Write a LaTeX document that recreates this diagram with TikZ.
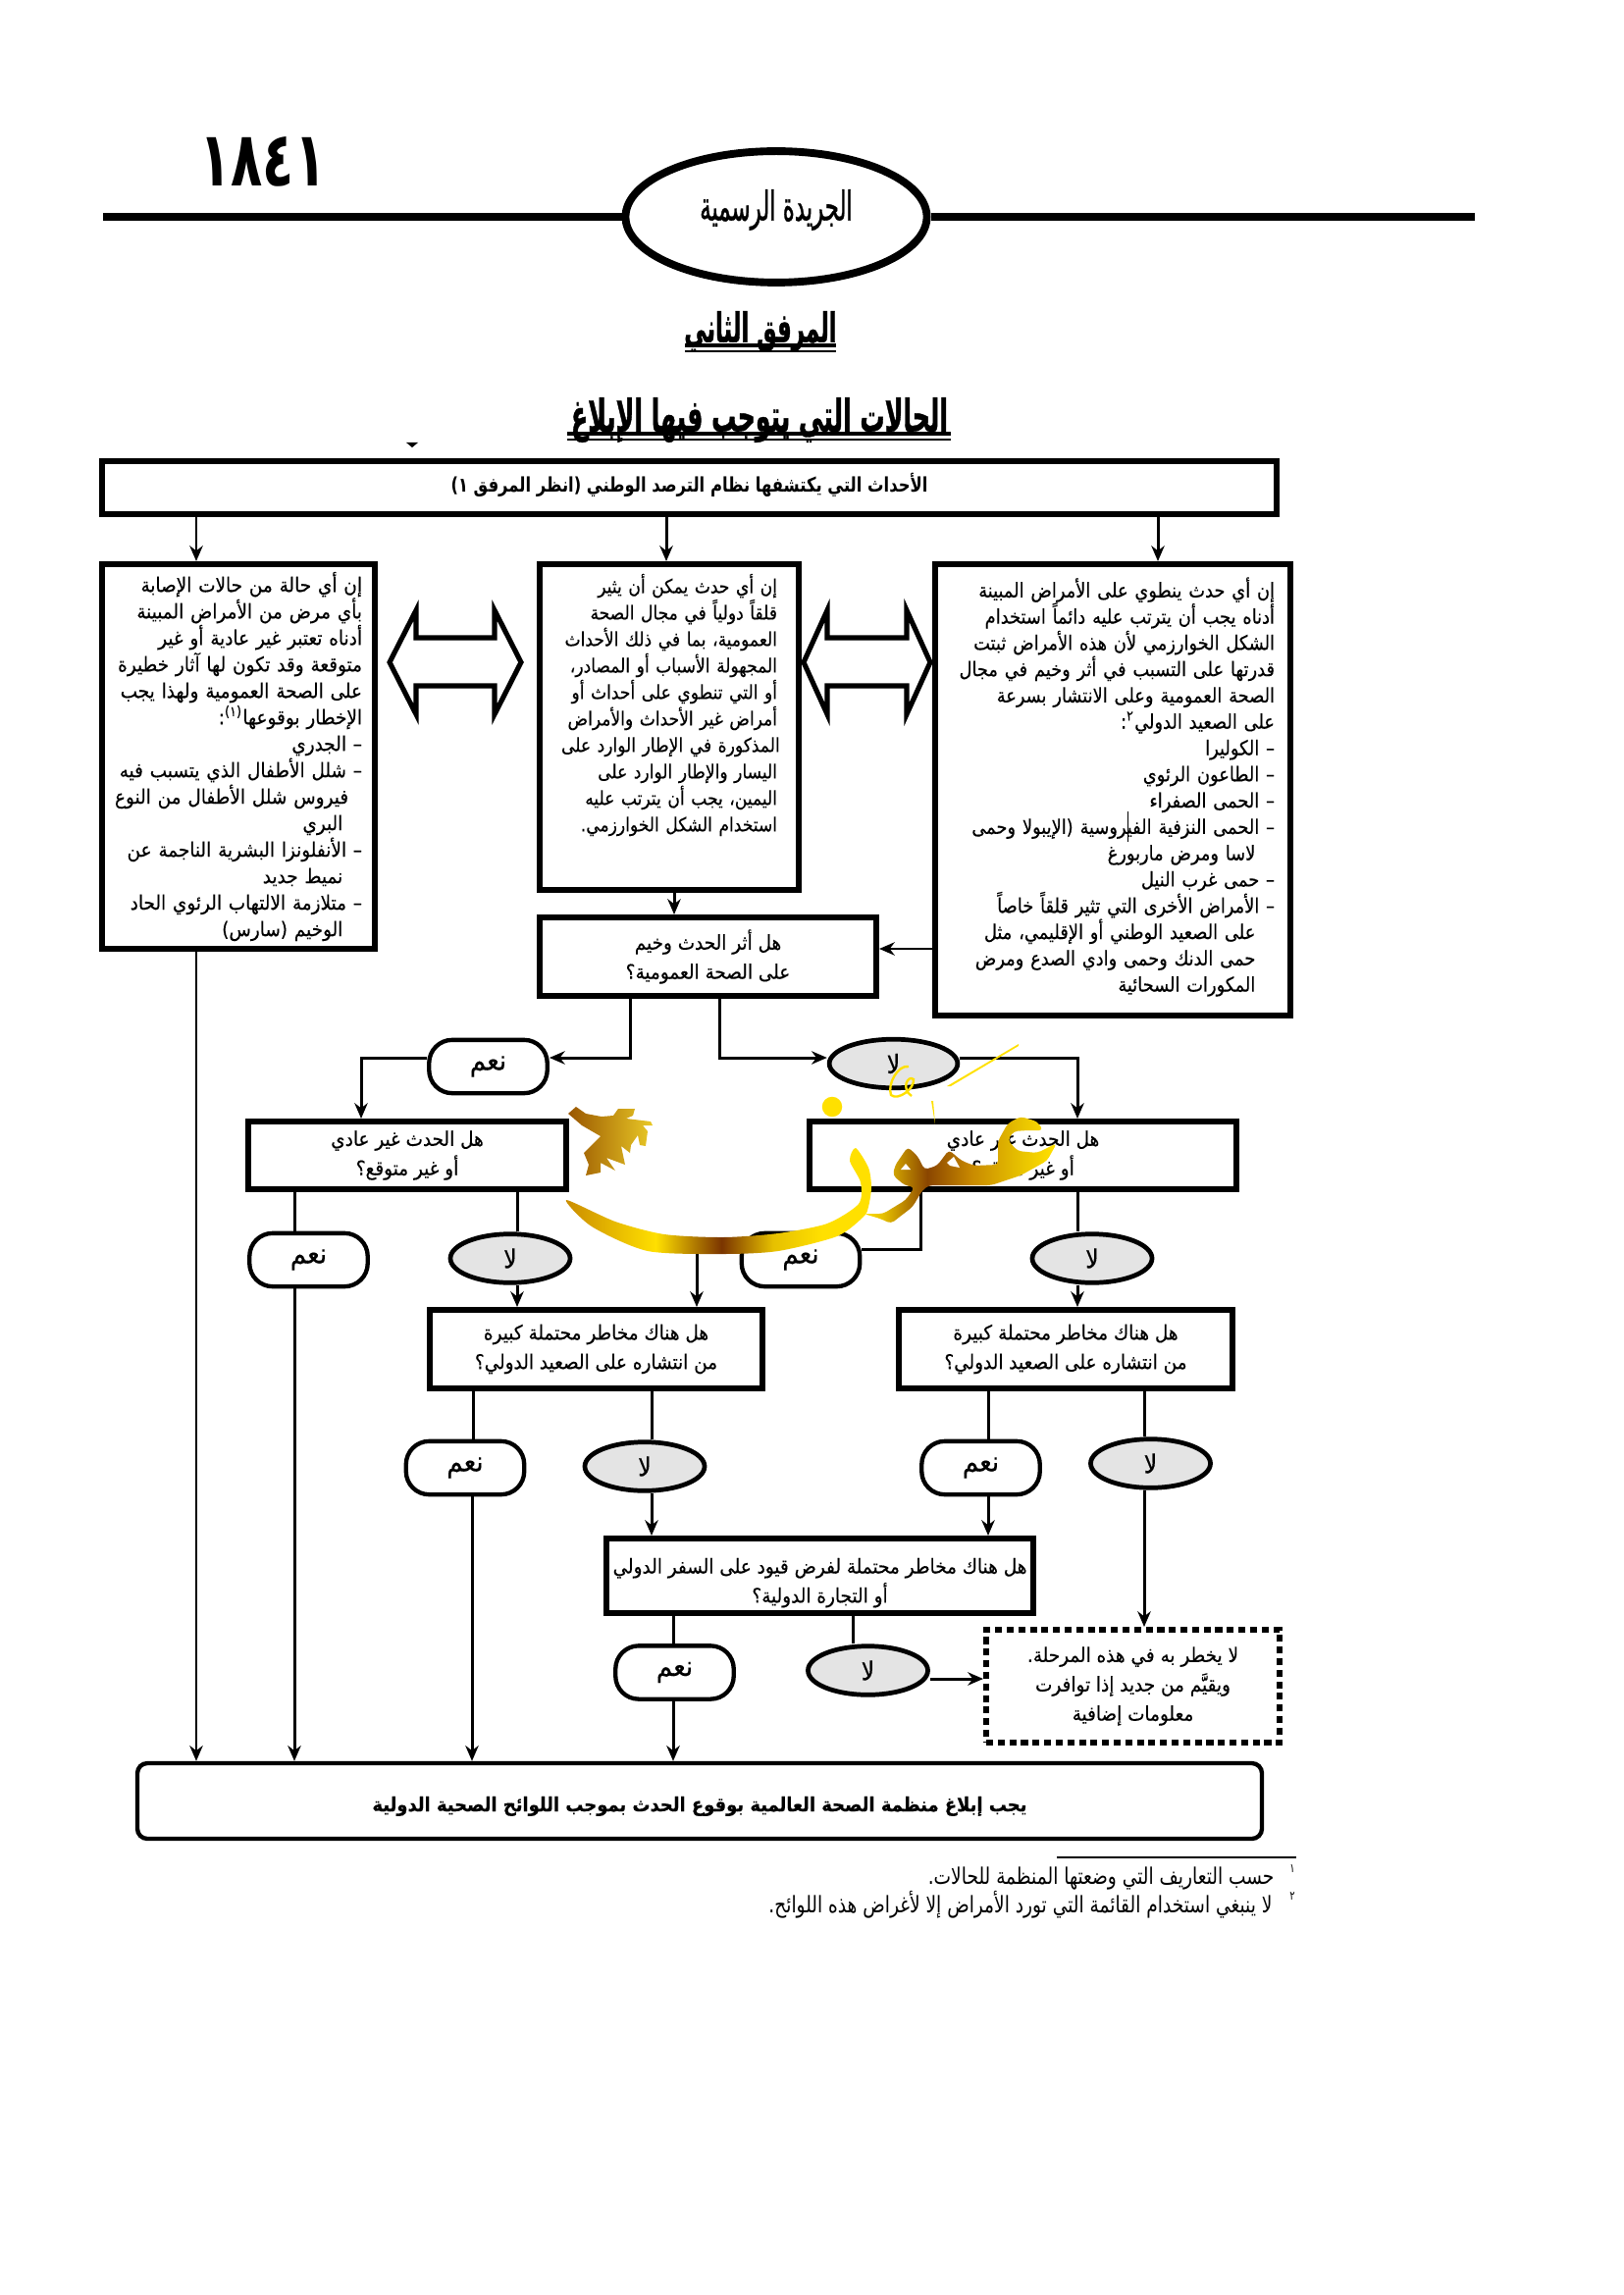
\documentclass[tikz,border=0pt]{standalone}
\usepackage{fontspec}
\usepackage{tikz}
\usetikzlibrary{arrows.meta,positioning,shapes.geometric,calc}
\TeXXeTstate=1
\newfontfamily\arabicfont[Script=Arabic,FakeStretch=0.8]{DejaVu Sans}
\newfontfamily\bodyfont[Script=Arabic,FakeStretch=0.87,FakeBold=0.3]{DejaVu Sans}
\newfontfamily\askfont[Script=Arabic,FakeStretch=0.9,FakeBold=0.3]{DejaVu Sans}
\newfontfamily\headfont[Script=Arabic,FakeStretch=0.55,FakeBold=0.8]{DejaVu Sans}
\newfontfamily\numfont[Script=Arabic,FakeStretch=0.68]{DejaVu Sans}
\newcommand{\ar}[1]{\mbox{\beginR #1\endR}}
\newcommand{\itemgap}{\hspace*{2.5mm}}
\definecolor{NoGray}{HTML}{E4E4E4}
\definecolor{GoldA}{HTML}{FFE000}
\definecolor{GoldB}{HTML}{7A3400}
\definecolor{GoldC}{HTML}{C98A00}
\definecolor{GoldD}{HTML}{E6C000}
\pgfdeclarehorizontalshading{swashgold}{100bp}{color(0bp)=(GoldC); color(25bp)=(GoldC);
  color(40bp)=(GoldA); color(50.7bp)=(GoldB); color(59bp)=(GoldD); color(67bp)=(GoldA); color(100bp)=(GoldA)}
\pgfdeclarehorizontalshading{wordgold}{100bp}{color(0bp)=(GoldA); color(25bp)=(GoldA);
  color(30bp)=(GoldD); color(41.5bp)=(GoldB!80!GoldC); color(53bp)=(GoldC); color(65bp)=(GoldD); color(74bp)=(GoldA); color(100bp)=(GoldA)}

\begin{document}
\begin{tikzpicture}[
  x=0.127mm,y=-0.127mm,
  wd/.style={minimum width=#1*0.127mm},
  ht/.style={minimum height=#1*0.127mm},
  box/.style={rectangle,draw,line width=0.76mm,inner sep=0pt,align=center,
              font=\askfont\fontsize{7.4}{10.8}\selectfont},
  bodybox/.style={box,font=\bodyfont\fontsize{7.4}{9.75}\selectfont,align=right},
  yesbox/.style={rectangle,rounded corners=3mm,draw,line width=0.55mm,fill=white,
                 minimum width=15.3mm,minimum height=6.9mm,inner sep=0pt,
                 font=\askfont\fontsize{10.5}{12}\selectfont},
  nobox/.style={ellipse,draw,line width=0.6mm,fill=NoGray,
                minimum width=15.5mm,minimum height=6.3mm,inner sep=0pt,
                font=\askfont\fontsize{9.5}{11}\selectfont},
  arrow/.style={-{Stealth[length=2mm,width=1.7mm]},line width=0.38mm},
  link/.style={line width=0.38mm},
  twoway/.style={draw,line width=0.65mm,fill=white,line join=miter}
]
  \useasboundingbox (0,0) rectangle (1654,2339);

  % header
  \coordinate (ruleL) at (105,221);
  \coordinate (ruleR) at (1503,221);
  \node[ellipse,draw,line width=1mm,minimum width=39mm,minimum height=17mm,inner sep=0pt] (gazette) at (791,221) {};
  \node[font=\headfont\fontsize{15}{17}\selectfont] (gazetteT) at (791,214) {\ar{الجريدة الرسمية}};
  \draw[line width=1mm] (ruleL)--(gazette);
  \draw[line width=1mm] (gazette)--(ruleR);
  \node[font=\numfont\bfseries\fontsize{28}{30}\selectfont] (pageno) at (268,165) {١٨٤١};

  % titles
  \node[inner sep=0pt,font=\headfont\bfseries\fontsize{15}{17}\selectfont] (annex) at (775,338) {\ar{المرفق الثاني}};
  \draw[line width=0.4mm] (698,352)--(852,352);
  \draw[line width=0.15mm] (698,358)--(852,358);
  \node[inner sep=0pt,font=\headfont\bfseries\fontsize{16.5}{18}\selectfont] (title) at (774,428) {\ar{الحالات التي يتوجب فيها الإبلاغ}};
  \draw[line width=0.4mm] (578,442)--(969,442);
  \draw[line width=0.15mm] (578,448)--(969,448);
  \fill (414,451)--(426,451)--(420,456)--cycle;

  % boxes
  \node[box,wd=1197,ht=54,text depth=1.2mm,font=\arabicfont\bfseries\fontsize{7.4}{10}\selectfont] (events) at (702.5,497) {\ar{الأحداث التي يكتشفها نظام الترصد الوطني (انظر المرفق ١)}};

  \node[bodybox,wd=278,ht=392,text width=252*0.127mm,font=\askfont\fontsize{7.4}{9.75}\selectfont] (leftcase) at (243,771) {%
    \ar{إن أي حالة من حالات الإصابة}\\
    \ar{بأي مرض من الأمراض المبينة}\\
    \ar{أدناه تعتبر غير عادية أو غير}\\
    \ar{متوقعة وقد تكون لها آثار خطيرة}\\
    \ar{على الصحة العمومية ولهذا يجب}\\
    \ar{الإخطار بوقوعها\textsuperscript{(١)}:}\\
    \ar{– الجدري}\\
    \ar{– شلل الأطفال الذي يتسبب فيه}\\
    \ar{\itemgap فيروس شلل الأطفال من النوع}\\
    \ar{\itemgap البري}\\
    \ar{– الأنفلونزا البشرية الناجمة عن}\\
    \ar{\itemgap نميط جديد}\\
    \ar{– متلازمة الالتهاب الرئوي الحاد}\\
    \ar{\itemgap الوخيم (سارس)}};

  \node[bodybox,wd=264,ht=332,text width=220*0.127mm,font=\bodyfont\fontsize{7.1}{9.75}\selectfont] (midcase) at (682,741) {%
    \ar{إن أي حدث يمكن أن يثير}\\
    \ar{قلقاً دولياً في مجال الصحة}\\
    \ar{العمومية، بما في ذلك الأحداث}\\
    \ar{المجهولة الأسباب أو المصادر،}\\
    \ar{أو التي تنطوي على أحداث أو}\\
    \ar{أمراض غير الأحداث والأمراض}\\
    \ar{المذكورة في الإطار الوارد على}\\
    \ar{اليسار والإطار الوارد على}\\
    \ar{اليمين، يجب أن يترتب عليه}\\
    \ar{استخدام الشكل الخوارزمي.}\\[2.9mm]\mbox{}};

  \node[bodybox,wd=362,ht=460,text width=330*0.127mm,font=\bodyfont\fontsize{7.4}{9.68}\selectfont] (rightcase) at (1134,805) {%
    \ar{إن أي حدث ينطوي على الأمراض المبينة}\\
    \ar{أدناه يجب أن يترتب عليه دائماً استخدام}\\
    \ar{الشكل الخوارزمي لأن هذه الأمراض ثبتت}\\
    \ar{قدرتها على التسبب في أثر وخيم في مجال}\\
    \ar{الصحة العمومية وعلى الانتشار بسرعة}\\
    \ar{على الصعيد الدولي\textsuperscript{٢}:}\\
    \ar{– الكوليرا}\\
    \ar{– الطاعون الرئوي}\\
    \ar{– الحمى الصفراء}\\
    \ar{– الحمى النزفية الفيروسية (الإيبولا وحمى}\\
    \ar{\itemgap لاسا ومرض ماربورغ}\\
    \ar{– حمى غرب النيل}\\
    \ar{– الأمراض الأخرى التي تثير قلقاً خاصاً}\\
    \ar{\itemgap على الصعيد الوطني أو الإقليمي، مثل}\\
    \ar{\itemgap حمى الدنك وحمى وادي الصدع ومرض}\\
    \ar{\itemgap المكورات السحائية}\\[-2mm]\mbox{}};
  \draw[line width=0.12mm] (1149,827)--(1149,858);

  \node[box,wd=343,ht=80] (impact) at (721.5,975) {\ar{هل أثر الحدث وخيم}\\\ar{على الصحة العمومية؟}};
  \node[box,wd=324,ht=69] (unusualL) at (415,1177.5) {\ar{هل الحدث غير عادي}\\\ar{أو غير متوقع؟}};
  \node[box,wd=435,ht=69] (unusualR) at (1042.5,1177.5) {\ar{هل الحدث غير عادي}\\\ar{أو غير متوقع؟}};
  \node[box,wd=339,ht=80] (spreadL) at (607.5,1375) {\ar{هل هناك مخاطر محتملة كبيرة}\\\ar{من انتشاره على الصعيد الدولي؟}};
  \node[box,wd=340,ht=80] (spreadR) at (1086,1375) {\ar{هل هناك مخاطر محتملة كبيرة}\\\ar{من انتشاره على الصعيد الدولي؟}};
  \node[box,wd=435,ht=76,text height=7.6mm] (travel) at (835.5,1606) {\ar{هل هناك مخاطر محتملة لفرض قيود على السفر الدولي}\\\ar{أو التجارة الدولية؟}};
  \node[box,wd=299,ht=115,dash pattern=on 0.9mm off 0.6mm] (later) at (1154.5,1718.5) {\ar{لا يخطر به في هذه المرحلة.}\\\ar{ويقيَّم من جديد إذا توافرت}\\\ar{معلومات إضافية}};
  \node[box,wd=1146,ht=77,text height=3.3mm,line width=0.55mm,rounded corners=1.3mm,font=\askfont\bfseries\fontsize{7.2}{10}\selectfont] (notify) at (713,1835.5) {\ar{يجب إبلاغ منظمة الصحة العالمية بوقوع الحدث بموجب اللوائح الصحية الدولية}};

  % yes and no
  \node[yesbox] (yesA) at (497.5,1087) {\ar{نعم}};
  \node[nobox,minimum width=16.6mm] (noA) at (910.5,1084) {\ar{لا}};
  \node[yesbox] (yesB) at (314.5,1284) {\ar{نعم}};
  \node[nobox] (noB) at (520,1282.5) {\ar{لا}};
  \node[yesbox] (yesC) at (816,1284) {\ar{نعم}};
  \node[nobox] (noC) at (1113,1282.5) {\ar{لا}};
  \node[yesbox] (yesD) at (474,1496) {\ar{نعم}};
  \node[nobox] (noD) at (657,1494.5) {\ar{لا}};
  \node[yesbox] (yesE) at (999.5,1496) {\ar{نعم}};
  \node[nobox] (noE) at (1172.5,1491.5) {\ar{لا}};
  \node[yesbox] (yesF) at (687.5,1704.5) {\ar{نعم}};
  \node[nobox] (noF) at (884.5,1702.5) {\ar{لا}};

  % connectors
  \draw[arrow] (events.south-|200,0)--(leftcase.north-|200,0);
  \draw[arrow] (events.south-|679,0)--(midcase.north-|679,0);
  \draw[arrow] (events.south-|1180,0)--(rightcase.north-|1180,0);
  \draw[arrow] (midcase.south-|687,0)--(impact.north-|687,0);
  \draw[arrow] (rightcase.west|-0,967)--(impact.east|-0,967);
  \draw[arrow] (leftcase.south-|200,0)--(notify.north-|200,0);

  \draw[arrow] (impact.south-|642,0)--(642,1078)--(yesA.east|-0,1078);
  \draw[arrow] (yesA.west|-0,1078)-|(unusualL.north-|368,0);
  \draw[arrow] (impact.south-|733,0)--(733,1078)--(noA.west|-0,1078);
  \draw[arrow] (noA.east|-0,1078)-|(unusualR.north-|1098,0);

  \draw[link] (unusualL.south-|300,0)--(yesB.north-|300,0);
  \draw[arrow] (yesB.south-|300,0)--(notify.north-|300,0);
  \draw[link] (unusualL.south-|527,0)--(noB.north-|527,0);
  \draw[arrow] (noB.south-|527,0)--(spreadL.north-|527,0);
  \draw[link] (unusualR.south-|938,0)--(938,1273)--(yesC.east|-0,1273);
  \draw[arrow] (yesC.west|-0,1273)-|(spreadL.north-|710,0);
  \draw[link] (unusualR.south-|1098,0)--(noC.north-|1098,0);
  \draw[arrow] (noC.south-|1098,0)--(spreadR.north-|1098,0);

  \draw[link] (spreadL.south-|482,0)--(yesD.north-|482,0);
  \draw[arrow] (yesD.south-|481,0)--(notify.north-|481,0);
  \draw[link] (spreadL.south-|664,0)--(noD.north-|664,0);
  \draw[arrow] (noD.south-|664,0)--(travel.north-|664,0);
  \draw[link] (spreadR.south-|1007,0)--(yesE.north-|1007,0);
  \draw[arrow] (yesE.south-|1007,0)--(travel.north-|1007,0);
  \draw[link] (spreadR.south-|1166,0)--(noE.north-|1166,0);
  \draw[arrow] (noE.south-|1166,0)--(later.north-|1166,0);

  \draw[link] (travel.south-|686,0)--(yesF.north-|686,0);
  \draw[arrow] (yesF.south-|686,0)--(notify.north-|686,0);
  \draw[link] (travel.south-|869,0)--(noF.north-|869,0);
  \draw[arrow] (noF.east|-0,1711)--(later.west|-0,1711);

  % two-way arrows
  \draw[twoway] (397,675)--(424,622)--(424,650)--(504,650)--(504,622)--(531,675)--(504,728)--(504,699)--(424,699)--(424,728)--cycle;
  \draw[twoway] (819,675)--(843,622)--(843,650)--(924,650)--(924,622)--(948,675)--(924,728)--(924,699)--(843,699)--(843,728)--cycle;

  % footnotes
  \coordinate (noteL) at (1077,1893);
  \coordinate (noteR) at (1321,1893);
  \draw[line width=0.15mm] (noteL)--(noteR);
  \node[anchor=east,inner sep=0pt,font=\arabicfont\fontsize{8.4}{9}\selectfont] (noteA) at (1299,1914) {\ar{حسب التعاريف التي وضعتها المنظمة للحالات.}};
  \node[anchor=east,inner sep=0pt,font=\arabicfont\fontsize{8.4}{9}\selectfont] (noteB) at (1297,1941) {\ar{لا ينبغي استخدام القائمة التي تورد الأمراض إلا لأغراض هذه اللوائح.}};
  \node[inner sep=0pt,font=\arabicfont\fontsize{4.5}{5}\selectfont] (markA) at (1317,1905) {١};
  \node[inner sep=0pt,font=\arabicfont\fontsize{4.5}{5}\selectfont] (markB) at (1317,1933) {٢};

  % stamp over the page
  \shade[shading=swashgold] plot[smooth cycle,tension=0.45] coordinates {(577,1223) (627,1245) (677,1258) (737,1261) (793,1257) (843,1247) (875,1227) (877,1205) (866,1183) (872,1170) (885,1190) (888,1210) (885,1230) (880,1240) (853,1260) (793,1275) (737,1278) (660,1275) (603,1250)};
  \shade[shading=wordgold,rounded corners=0.5mm] (880,1237)--(900,1237)--(923,1223)--(932,1210)--(922,1208)--(910,1198)--(912,1188)--(925,1169)--(935,1178)--(942,1192)--(955,1188)--(967,1172)--(980,1183)--(993,1188)--(1017,1187)--(1017,1163)--(1027,1145)--(1040,1138)--(1057,1143)--(1063,1152)--(1047,1152)--(1033,1153)--(1027,1162)--(1037,1173)--(1057,1175)--(1077,1165)--(1067,1183)--(1040,1198)--(1010,1208)--(993,1208)--(970,1208)--(947,1208)--(940,1213)--(930,1230)--(908,1247)--(897,1242)--cycle;
  \fill[white] (918,1192)--(923,1186)--(928,1192)--cycle;
  \fill[white] (965,1185)--(972,1179)--(978,1190)--(968,1188)--cycle;
  \fill[GoldA] (848,1128) circle (1.3mm);
  \draw[GoldA,line width=0.3mm] (926,1087) .. controls (915,1085) and (904,1105) .. (908,1116) .. controls (915,1122) and (932,1110) .. (931,1100) .. controls (925,1095) and (918,1110) .. (929,1117);
  \fill[GoldA] (965,1107)--(1038,1064)--(1038,1066)--(969,1107)--cycle;
  \fill[GoldA] (949,1122)--(951,1122)--(953,1146)--cycle;
  \shade[left color=GoldB!60!GoldC,middle color=GoldC!70!orange,right color=GoldD!85!white] (579,1135)--(587,1128)--(597,1135)--(613,1138)--(625,1137)--(630,1130)--(647,1130)--(645,1137)--(638,1140)--(663,1143)--(665,1147)--(655,1147)--(660,1153)--(658,1168)--(652,1167)--(650,1157)--(643,1167)--(642,1175)--(633,1168)--(637,1187)--(618,1180)--(627,1193)--(612,1185)--(612,1195)--(597,1198)--(600,1187)--(595,1175)--(612,1158)--(593,1147)--cycle;
\end{tikzpicture}
\end{document}
